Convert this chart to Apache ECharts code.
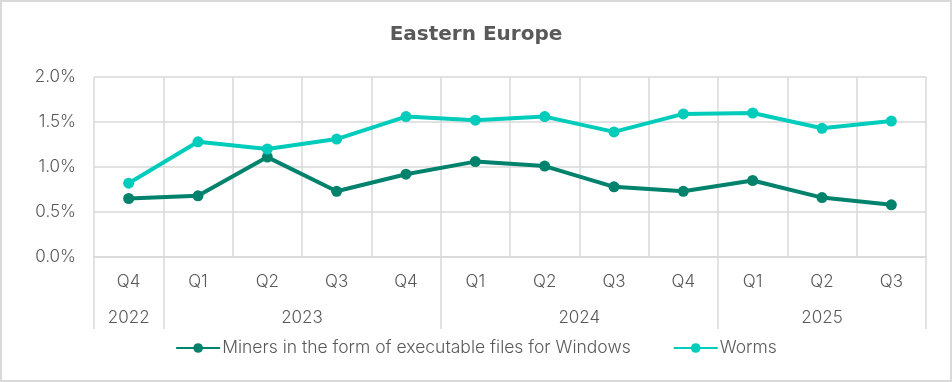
<!DOCTYPE html>
<html>
<head>
<meta charset="utf-8">
<script src="https://cdn.jsdelivr.net/npm/echarts@6/dist/echarts.min.js"></script>
<style>
html,body{margin:0;padding:0;background:#fff;}
#chart{width:952px;height:382px;}
</style>
</head>
<body>
<div id="chart"></div>
<script>
const quarters = ['Q4','Q1','Q2','Q3','Q4','Q1','Q2','Q3','Q4','Q1','Q2','Q3'];
// year groups: [label, number of quarters]
const years = [['2022',1],['2023',4],['2024',4],['2025',3]];
const miners = [0.65,0.68,1.11,0.73,0.92,1.06,1.01,0.78,0.73,0.85,0.66,0.58];
const worms  = [0.82,1.28,1.20,1.31,1.56,1.52,1.56,1.39,1.59,1.60,1.43,1.51];
const yTicks = [0, 0.5, 1.0, 1.5, 2.0];

// half-step helper axis for the year labels and group boundaries
const halfCats = new Array(quarters.length * 2 + 1).fill('');
const boundaryIdx = new Set([0]);
let pos = 0;
years.forEach(([y, n]) => {
  halfCats[pos + n] = y;
  pos += n * 2;
  boundaryIdx.add(pos);
});

const FONT = 'Inter';
const W = 300;
const FS = 17;
const TXT = '#595959';
const GRID = '#d9d9d9';

const chart = echarts.init(document.getElementById('chart'));
chart.setOption({
  animation: false,
  textStyle: {fontFamily: FONT},
  title: {
    text: 'Eastern Europe',
    left: 'center',
    top: 20,
    textStyle: {fontFamily: 'DejaVu Sans', fontSize: 20, fontWeight: 'bold', color: TXT}
  },
  graphic: [{
    type: 'rect',
    shape: {x: 1, y: 1, width: 950, height: 380},
    style: {fill: 'none', stroke: GRID, lineWidth: 2},
    silent: true
  }],
  legend: {
    bottom: 20,
    left: 'center',
    itemWidth: 44,
    itemHeight: 12,
    itemGap: 42,
    textStyle: {fontFamily: FONT, fontWeight: W, fontSize: 17.5, color: TXT, padding: [0,0,0,-3]},
    data: ['Miners in the form of executable files for Windows', 'Worms']
  },
  grid: {left: 94, right: 26, top: 77, bottom: 125, containLabel: false},
  xAxis: [{
    type: 'category',
    data: quarters,
    boundaryGap: true,
    axisLine: {lineStyle: {color: GRID, width: 1.5}},
    axisTick: {show: false},
    splitLine: {show: true, lineStyle: {color: GRID, width: 1.5}},
    axisLabel: {interval: 0, margin: 16, fontFamily: FONT, fontWeight: W, fontSize: FS, color: TXT}
  }, {
    type: 'category',
    data: halfCats,
    boundaryGap: false,
    position: 'bottom',
    axisLine: {show: false},
    axisTick: {
      show: true,
      length: 72,
      interval: (i) => boundaryIdx.has(i),
      lineStyle: {color: GRID, width: 1.5}
    },
    axisLabel: {interval: 0, margin: 52, fontFamily: FONT, fontWeight: W, fontSize: FS, color: TXT},
    splitLine: {show: false}
  }],
  yAxis: {
    type: 'value',
    min: yTicks[0],
    max: yTicks[yTicks.length - 1],
    interval: 0.5,
    axisLine: {show: false},
    axisTick: {show: false},
    splitLine: {lineStyle: {color: GRID, width: 1.5}},
    axisLabel: {margin: 18, fontFamily: FONT, fontWeight: W, fontSize: FS, color: TXT,
      formatter: (v) => v.toFixed(1) + '%'}
  },
  series: [{
    name: 'Miners in the form of executable files for Windows',
    type: 'line',
    data: miners,
    symbol: 'circle',
    symbolSize: 11,
    lineStyle: {width: 4, color: '#00826c'},
    itemStyle: {color: '#00826c'}
  }, {
    name: 'Worms',
    type: 'line',
    data: worms,
    symbol: 'circle',
    symbolSize: 11,
    lineStyle: {width: 4, color: '#00ccbb'},
    itemStyle: {color: '#00ccbb'}
  }]
});
</script>
</body>
</html>
